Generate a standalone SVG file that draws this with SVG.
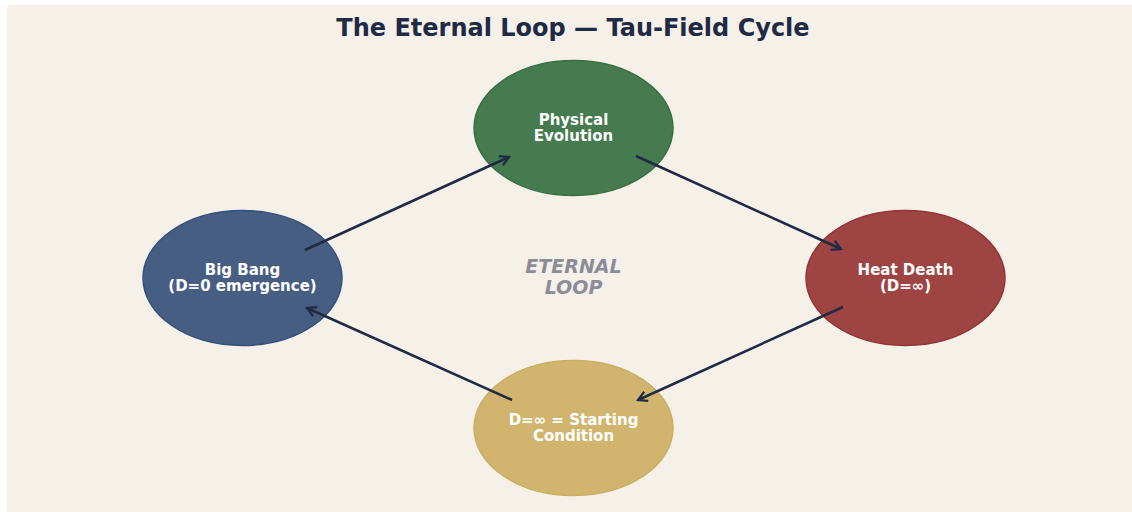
<svg xmlns="http://www.w3.org/2000/svg" width="1132" height="512" viewBox="0 0 1132 512">
<defs>
<style>
.lbl{font-family:"DejaVu Sans",sans-serif;font-weight:bold;font-size:15px;fill:#ffffff;text-anchor:middle}
.mid{font-family:"DejaVu Sans",sans-serif;font-weight:bold;font-style:italic;font-size:19px;fill:#8a8d99;text-anchor:middle}
.conn{stroke:#1f2a44;stroke-width:2.5;fill:none;marker-end:url(#ah)}
</style>
<marker id="ah" viewBox="0 0 12 12" refX="10" refY="6" markerWidth="12" markerHeight="12" markerUnits="userSpaceOnUse" orient="auto">
<path d="M1,1 L10,6 L1,11" fill="none" stroke="#1f2a44" stroke-width="2.2"/>
</marker>
</defs>
<rect x="0" y="0" width="1132" height="512" fill="#ffffff"/>
<rect x="7" y="5" width="1125" height="507" fill="#f5f0e8"/>
<text x="573" y="36" font-family="DejaVu Sans, sans-serif" font-weight="bold" font-size="24" fill="#1f2a44" text-anchor="middle">The Eternal Loop — Tau-Field Cycle</text>
<g id="physical">
<ellipse cx="573.5" cy="128" rx="99.5" ry="67.5" fill="#467a4f" stroke="#3a6e43" stroke-width="1.5"/>
<text class="lbl" x="573.5" y="125">Physical</text>
<text class="lbl" x="573.5" y="141">Evolution</text>
</g>
<g id="heatdeath">
<ellipse cx="905.5" cy="278" rx="99.5" ry="67.5" fill="#9e4543" stroke="#933535" stroke-width="1.5"/>
<text class="lbl" x="905.5" y="275">Heat Death</text>
<text class="lbl" x="905.5" y="291">(D=∞)</text>
</g>
<g id="start">
<ellipse cx="573.5" cy="428" rx="99.5" ry="67.5" fill="#d1b56e" stroke="#cbae62" stroke-width="1.5"/>
<text class="lbl" x="573.5" y="425">D=∞ = Starting</text>
<text class="lbl" x="573.5" y="441">Condition</text>
</g>
<g id="bigbang">
<ellipse cx="242.5" cy="278" rx="99.5" ry="67.5" fill="#475e83" stroke="#34507e" stroke-width="1.5"/>
<text class="lbl" x="242.5" y="275">Big Bang</text>
<text class="lbl" x="242.5" y="291">(D=0 emergence)</text>
</g>
<g id="center">
<text class="mid" x="573.5" y="273">ETERNAL</text>
<text class="mid" x="573.5" y="294">LOOP</text>
</g>
<g id="connectors">
<line class="conn" x1="305" y1="250" x2="509" y2="157"/>
<line class="conn" x1="636" y1="156" x2="841" y2="249"/>
<line class="conn" x1="843" y1="307" x2="638" y2="400"/>
<line class="conn" x1="512" y1="400" x2="307" y2="308"/>
</g>
</svg>
